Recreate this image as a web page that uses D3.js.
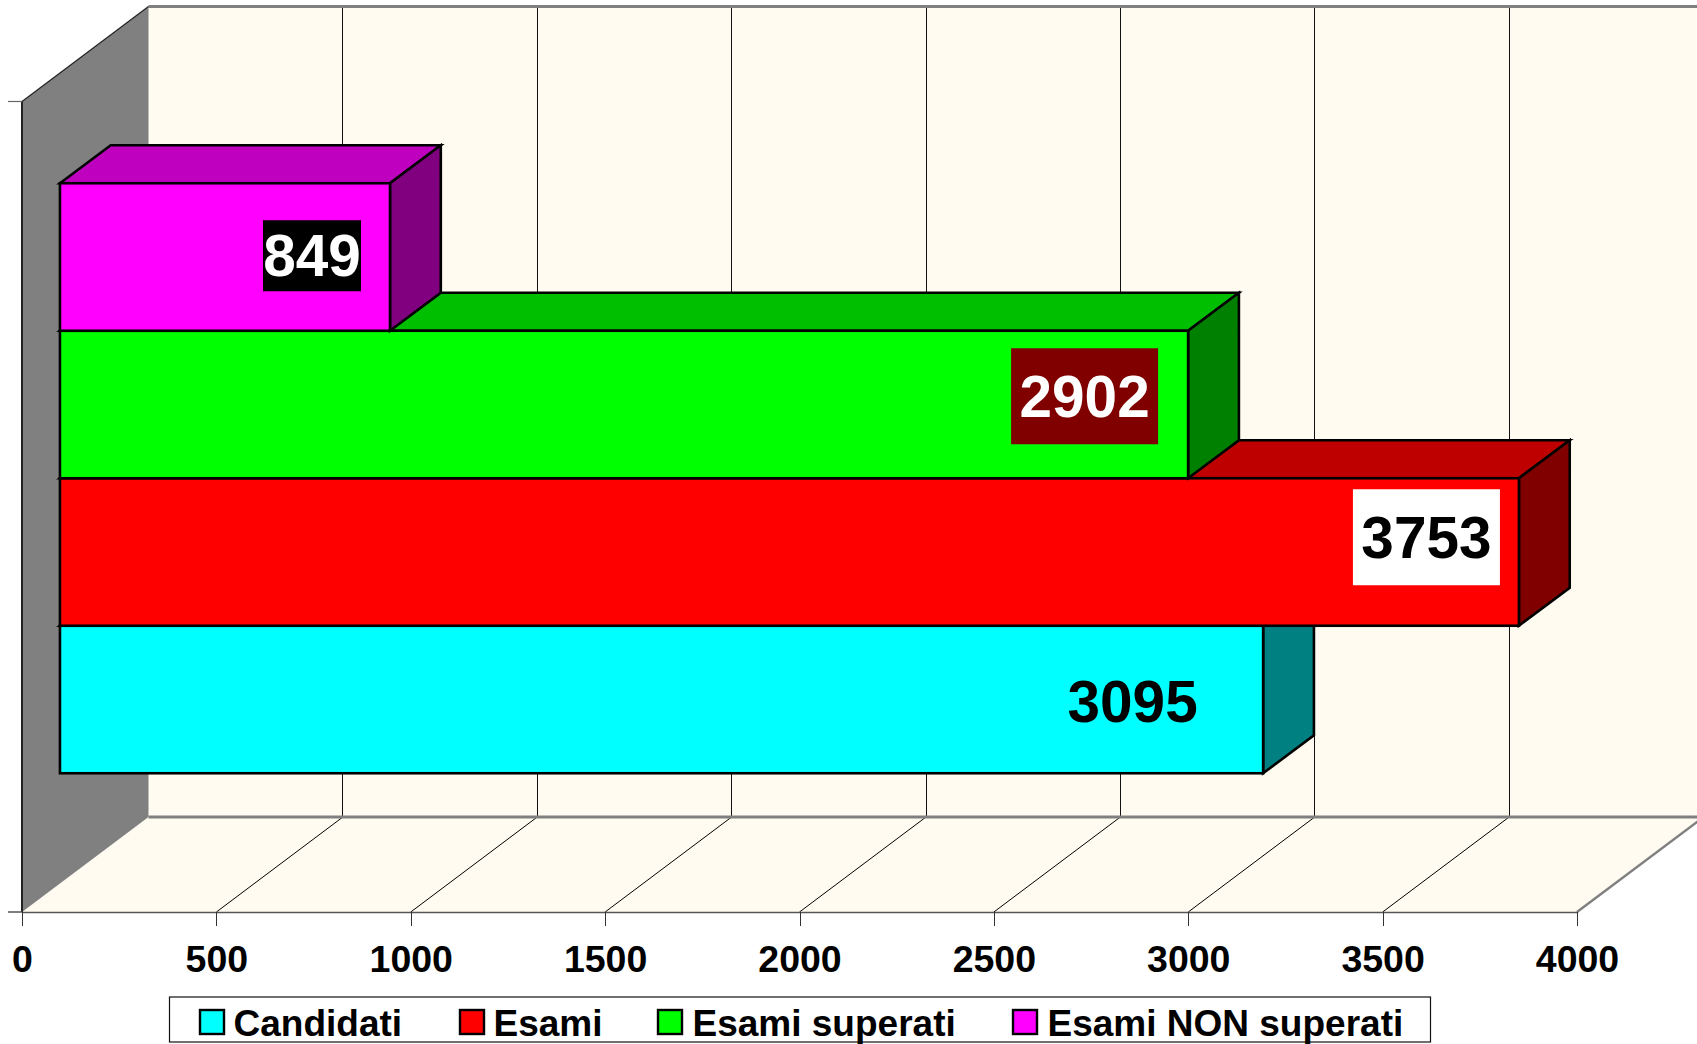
<!DOCTYPE html>
<html><head><meta charset="utf-8">
<script src="https://cdn.jsdelivr.net/npm/d3@7"></script>
<style>html,body{margin:0;padding:0;background:#fff;overflow:hidden}svg{display:block}text{font-family:"Liberation Sans",Arial,sans-serif;font-weight:bold}</style>
</head><body><div id="c"></div>
<script>
const seriesNames=["Candidati","Esami","Esami superati","Esami NON superati"];
const seriesValues=[3095,3753,2902,849];
const xTicks=[0,500,1000,1500,2000,2500,3000,3500,4000];
const frontColors=["#00FFFF","#FF0000","#00FF00","#FF00FF"];
const topColors=["#00BFBF","#BF0000","#00BF00","#BF00BF"];
const sideColors=["#008080","#800000","#008000","#800080"];
const labelFill=["#000","#000","#fff","#fff"];
const labelBg=[null,"#fff","#800000","#000"];
const labelBack=[130.5,92.5,103.5,78];
const labelShiftY=[2.5,-14.75,-8.25,-1.25];
const labelBoxW=[0,147,147,98];
const labelBoxH=[0,96,96,71];
const legendSwatchX=[200,460,658,1013];
const legendTextX=[233.5,493.5,692.5,1047.5];

const W=1697,H=1044;
const svg=d3.select("#c").append("svg").attr("width",W).attr("height",H);
const leftX=22,rightX=1577,bottomY=912,topY=101.5;
const depthX=126.5,depthY=95;
const x=d3.scaleLinear().domain([0,4000]).range([leftX,rightX]);
const y=d3.scaleBand().domain(seriesNames).range([bottomY,topY]).paddingInner(0).paddingOuter(0.7475);
const gapFront=0.3,gapDepth=0.4;
const poly=(pts,fill,stroke,sw)=>svg.append("polygon").attr("points",pts.map(p=>p.join(",")).join(" ")).attr("fill",fill).attr("stroke",stroke||"none").attr("stroke-width",sw||0).attr("stroke-linejoin","miter");
const line=(a,b,c,sw)=>svg.append("line").attr("x1",a[0]).attr("y1",a[1]).attr("x2",b[0]).attr("y2",b[1]).attr("stroke",c).attr("stroke-width",sw);

// walls
const bx=x(0)+depthX, by=bottomY-depthY, ty=topY-depthY;
poly([[bx,ty],[x(4000)+depthX,ty],[x(4000)+depthX,by],[bx,by]],"#FFFBF0");
poly([[x(0),bottomY],[x(4000),bottomY],[x(4000)+depthX,by],[bx,by]],"#FFFBF0");
poly([[x(0),topY],[bx,ty],[bx,by],[x(0),bottomY]],"#808080");
// grid
xTicks.slice(1,-1).forEach(t=>{
  line([x(t),bottomY],[x(t)+depthX,by],"#000",1);
  line([x(t)+depthX,by],[x(t)+depthX,ty],"#111",1).attr("shape-rendering","crispEdges");
});
// frame
line([bx,ty],[W+20,ty],"#808080",3);
line([bx,by],[W+20,by],"#808080",3);
line([x(4000),bottomY],[x(4000)+depthX,by],"#808080",2.4);
line([leftX,topY],[bx,ty],"#222",1.2);
line([leftX,topY],[leftX,bottomY],"#222",2);
line([8,topY],[leftX,topY],"#666",1.2);
line([8,bottomY],[leftX,bottomY],"#555",1.5);

// axis
const ax=svg.append("g").attr("transform",`translate(0,${bottomY})`).call(d3.axisBottom(x).tickValues(xTicks).tickSize(14).tickSizeOuter(0).tickPadding(19).tickFormat(d3.format("d")));
ax.select(".domain").attr("stroke","#555").attr("stroke-width",1.5);
ax.selectAll(".tick line").attr("stroke","#333").attr("stroke-width",1).attr("shape-rendering","crispEdges");
ax.selectAll(".tick text").attr("fill","#000").style("font-size","37.5px").style("font-family",'"Liberation Sans",Arial,sans-serif').style("font-weight","bold");

// bars
const fx=gapFront*depthX, fy=gapFront*depthY, dx=gapDepth*depthX+0.2, dy=gapDepth*depthY;
seriesNames.forEach((n,i)=>{
  const xl=x(0)+fx, xr=x(seriesValues[i])+fx;
  const yb=y(n)+y.bandwidth()-fy, yt=y(n)-fy;
  poly([[xl,yt],[xl+dx,yt-dy],[xr+dx,yt-dy],[xr,yt]],topColors[i],"#000",2.6);
  poly([[xr,yt],[xr+dx,yt-dy],[xr+dx,yb-dy],[xr,yb]],sideColors[i],"#000",2.6);
  svg.append("rect").attr("x",xl).attr("y",yt).attr("width",xr-xl).attr("height",yb-yt).attr("fill",frontColors[i]).attr("stroke","#000").attr("stroke-width",2.6);
});
// value labels
seriesNames.forEach((n,i)=>{
  const cx=x(seriesValues[i])+fx-labelBack[i];
  const cy=y(n)+y.bandwidth()/2-fy+labelShiftY[i];
  if(labelBg[i]) svg.append("rect").attr("x",cx-labelBoxW[i]/2).attr("y",cy-labelBoxH[i]/2).attr("width",labelBoxW[i]).attr("height",labelBoxH[i]).attr("fill",labelBg[i]);
  svg.append("text").attr("x",cx).attr("y",cy+20.5).attr("text-anchor","middle").attr("fill",labelFill[i]).style("font-size","58.5px").text(seriesValues[i]);
});
// legend
svg.append("rect").attr("x",169.5).attr("y",997).attr("width",1261).attr("height",45).attr("fill","#fff").attr("stroke","#111").attr("stroke-width",1.2);
seriesNames.forEach((n,i)=>{
  svg.append("rect").attr("x",legendSwatchX[i]).attr("y",1010).attr("width",24).attr("height",24).attr("fill",frontColors[i]).attr("stroke","#000").attr("stroke-width",2.4);
  svg.append("text").attr("x",legendTextX[i]).attr("y",1036).attr("fill","#000").style("font-size","37px").text(n);
});
</script></body></html>
